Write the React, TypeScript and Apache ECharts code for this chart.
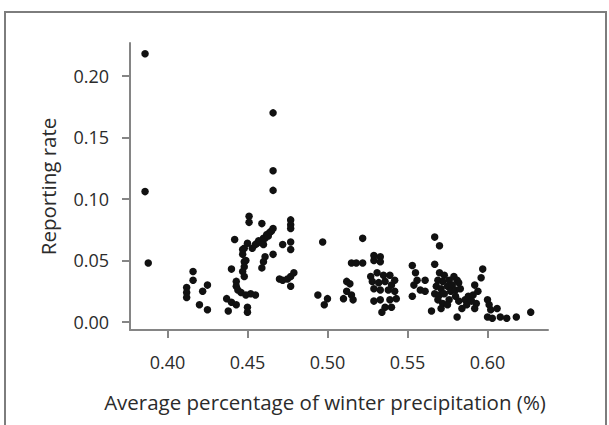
import React, { useEffect, useRef } from "react";
import * as echarts from "echarts";

// Average percentage of winter precipitation (x) and reporting rate (y), one pair per point
const precipitation = [
  0.386, 0.386, 0.388,
  0.416, 0.416, 0.412, 0.412, 0.412, 0.422, 0.425, 0.420, 0.425,
  0.437, 0.440, 0.443, 0.438, 0.442, 0.440, 0.443, 0.443, 0.444, 0.446,
  0.451, 0.451, 0.450, 0.448, 0.447, 0.447, 0.449, 0.448, 0.448, 0.447, 0.448, 0.449, 0.452, 0.455, 0.450, 0.450,
  0.453, 0.455, 0.456, 0.457, 0.458, 0.460, 0.460, 0.461, 0.462, 0.463, 0.464, 0.465, 0.466, 0.459, 0.461, 0.460, 0.459, 0.466,
  0.466, 0.466, 0.466,
  0.477, 0.477, 0.477, 0.472, 0.477, 0.477, 0.470, 0.472, 0.475, 0.477, 0.479, 0.477,
  0.497, 0.494, 0.500, 0.498,
  0.522, 0.515, 0.518, 0.522, 0.512, 0.514, 0.512, 0.515, 0.516, 0.510,
  0.529, 0.533, 0.529, 0.533, 0.527, 0.531, 0.535, 0.539, 0.542, 0.528, 0.532, 0.536, 0.540, 0.529, 0.533, 0.538,
  0.542, 0.543, 0.539, 0.536, 0.534, 0.529, 0.533, 0.540,
  0.553, 0.555, 0.556, 0.554, 0.558, 0.561, 0.553, 0.561,
  0.567, 0.570, 0.567, 0.565, 0.570, 0.573, 0.569, 0.572, 0.576, 0.579, 0.581, 0.568, 0.571, 0.575, 0.578, 0.582,
  0.567, 0.570, 0.573, 0.577, 0.580, 0.583, 0.569, 0.572, 0.576, 0.580, 0.582, 0.571, 0.575, 0.581, 0.584, 0.586,
  0.588, 0.587,
  0.597, 0.596, 0.592, 0.594, 0.591, 0.590, 0.593, 0.592, 0.600, 0.601, 0.602, 0.600, 0.603, 0.606, 0.608, 0.612,
  0.618, 0.627,
];
const reportingRate = [
  0.218, 0.106, 0.048,
  0.041, 0.034, 0.028, 0.024, 0.020, 0.025, 0.030, 0.014, 0.010,
  0.019, 0.016, 0.014, 0.009, 0.067, 0.043, 0.033, 0.029, 0.026, 0.024,
  0.086, 0.081, 0.064, 0.060, 0.059, 0.055, 0.050, 0.049, 0.045, 0.041, 0.037, 0.022, 0.023, 0.022, 0.012, 0.008,
  0.060, 0.063, 0.064, 0.066, 0.065, 0.068, 0.063, 0.068, 0.071, 0.070, 0.073, 0.074, 0.076, 0.080, 0.053, 0.049, 0.044, 0.055,
  0.170, 0.123, 0.107,
  0.083, 0.079, 0.076, 0.063, 0.065, 0.059, 0.035, 0.034, 0.035, 0.037, 0.040, 0.029,
  0.065, 0.022, 0.019, 0.014,
  0.068, 0.048, 0.048, 0.048, 0.033, 0.031, 0.025, 0.022, 0.018, 0.019,
  0.054, 0.053, 0.050, 0.049, 0.037, 0.040, 0.038, 0.038, 0.034, 0.033, 0.032, 0.033, 0.030, 0.027, 0.026, 0.026,
  0.025, 0.019, 0.018, 0.012, 0.008, 0.017, 0.018, 0.012,
  0.046, 0.040, 0.034, 0.030, 0.026, 0.025, 0.021, 0.034,
  0.069, 0.062, 0.047, 0.009, 0.040, 0.038, 0.034, 0.033, 0.034, 0.037, 0.034, 0.029, 0.027, 0.029, 0.030, 0.032,
  0.023, 0.022, 0.023, 0.025, 0.026, 0.027, 0.018, 0.015, 0.018, 0.021, 0.017, 0.011, 0.014, 0.004, 0.011, 0.018,
  0.021, 0.014,
  0.043, 0.036, 0.030, 0.025, 0.022, 0.017, 0.015, 0.011, 0.018, 0.014, 0.010, 0.004, 0.003, 0.011, 0.004, 0.003,
  0.004, 0.008,
];

const xTicks = [0.4, 0.45, 0.5, 0.55, 0.6];
const yTicks = [0, 0.05, 0.1, 0.15, 0.2];

const xName = "Average percentage of winter precipitation (%)";
const yName = "Reporting rate";

const FONT = "'Open Sans', sans-serif";
const AXIS_GRAY = "#858585";
const TEXT = "#2b2b2b";

export default function App() {
  const ref = useRef<HTMLDivElement>(null);

  useEffect(() => {
    if (!ref.current) return;
    const chart = echarts.init(ref.current, undefined, { renderer: "svg" });
    const points = precipitation.map((x, i) => [x, reportingRate[i]]);
    chart.setOption({
      animation: false,
      backgroundColor: "#ffffff",
      textStyle: { fontFamily: FONT },
      graphic: [
        {
          type: "rect",
          shape: { x: 5, y: 12, width: 601, height: 440 },
          style: { fill: "none", stroke: "#7d7d7d", lineWidth: 2 },
          silent: true,
        },
      ],
      grid: { left: 130, right: 61, top: 43, bottom: 95, containLabel: false },
      xAxis: {
        type: "value",
        min: 0.3766,
        max: 0.6378,
        name: xName,
        nameLocation: "middle",
        nameGap: 61,
        nameTextStyle: {
          fontFamily: FONT,
          fontSize: 20.5,
          color: TEXT,
          padding: [0, 28, 0, 0],
        },
        axisLine: { show: true, onZero: false, lineStyle: { color: AXIS_GRAY, width: 2 } },
        axisTick: {
          show: true,
          length: 8,
          customValues: xTicks,
          lineStyle: { color: AXIS_GRAY, width: 2 },
        },
        axisLabel: {
          customValues: xTicks,
          formatter: (v: number) => v.toFixed(2),
          fontFamily: FONT,
          fontSize: 18,
          color: TEXT,
          margin: 23,
        },
        splitLine: { show: false },
      },
      yAxis: {
        type: "value",
        min: -0.0065,
        max: 0.2268,
        name: yName,
        nameLocation: "middle",
        nameGap: 72,
        nameRotate: 90,
        nameTextStyle: { fontFamily: FONT, fontSize: 20.5, color: TEXT },
        axisLine: { show: true, onZero: false, lineStyle: { color: AXIS_GRAY, width: 2 } },
        axisTick: {
          show: true,
          length: 8,
          customValues: yTicks,
          lineStyle: { color: AXIS_GRAY, width: 2 },
        },
        axisLabel: {
          customValues: yTicks,
          formatter: (v: number) => v.toFixed(2),
          fontFamily: FONT,
          fontSize: 18,
          color: TEXT,
          margin: 21,
        },
        splitLine: { show: false },
      },
      series: [
        {
          type: "scatter",
          data: points,
          symbol: "circle",
          symbolSize: 7.5,
          itemStyle: { color: "#111111", opacity: 1 },
        },
      ],
    });
    return () => chart.dispose();
  }, []);

  return (
    <div
      ref={ref}
      style={{ position: "absolute", left: 0, top: 0, width: 609, height: 425 }}
    />
  );
}
